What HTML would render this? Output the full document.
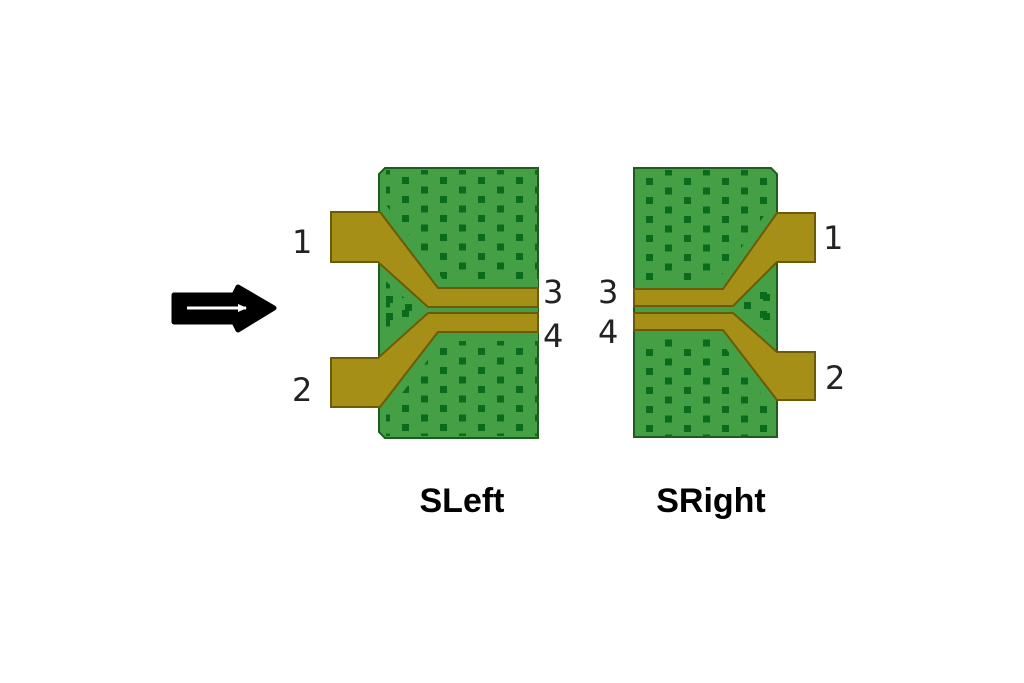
<!DOCTYPE html>
<html><head><style>
html,body{margin:0;padding:0;background:#fff;}
svg{display:block;}
.lbl{font-family:"DejaVu Sans","Liberation Sans",sans-serif;font-size:32px;fill:#222;}
.name{font-family:"Liberation Sans",sans-serif;font-size:34px;font-weight:bold;fill:#000;}
</style></head><body>
<svg width="1024" height="683" viewBox="0 0 1024 683" xmlns="http://www.w3.org/2000/svg">
<defs>
<pattern id="dots" x="402" y="177" width="38" height="19" patternUnits="userSpaceOnUse">
<rect x="0" y="0" width="7" height="7" fill="#0b6b1c"/>
<rect x="19" y="9.5" width="7" height="7" fill="#0b6b1c"/>
</pattern>
<pattern id="dots2" x="634" y="178" width="38" height="19" patternUnits="userSpaceOnUse">
<rect x="12" y="0" width="7" height="7" fill="#0b6b1c"/>
<rect x="31" y="9.5" width="7" height="7" fill="#0b6b1c"/>
</pattern>
<clipPath id="cl"><rect x="381" y="170" width="157" height="266"/></clipPath>
<clipPath id="cr"><rect x="635" y="170" width="141" height="266"/></clipPath>
</defs>
<!-- Left board -->
<path d="M385 168 H538 V438 H385 L379 432 V174 Z" fill="#45a045" stroke="#1f5a1f" stroke-width="2"/>
<rect x="386" y="170" width="152" height="266" fill="url(#dots)"/>
<g fill="#45a045" stroke="#45a045" stroke-width="18" stroke-linejoin="round" clip-path="url(#cl)">
<polygon points="331,212 380,212 438,288 538,288 538,307 428,307 378,262 331,262"/>
<polygon points="331,358 378,358 428,313 538,313 538,332 438,332 380,407 331,407"/>
</g>
<g fill="#a68f16" stroke="#6d5a08" stroke-width="2">
<polygon points="331,212 380,212 438,288 538,288 538,307 428,307 378,262 331,262"/>
<polygon points="331,358 378,358 428,313 538,313 538,332 438,332 380,407 331,407"/>
</g>
<rect x="386" y="296" width="7" height="7" fill="#0b6b1c"/>
<rect x="405" y="304" width="7" height="7" fill="#0b6b1c"/>
<rect x="386" y="313" width="7" height="7" fill="#0b6b1c"/>
<!-- Right board -->
<path d="M634 168 H771 L777 174 V437 H634 Z" fill="#45a045" stroke="#1f5a1f" stroke-width="2"/>
<rect x="635" y="170" width="136" height="266" fill="url(#dots2)"/>
<g fill="#45a045" stroke="#45a045" stroke-width="18" stroke-linejoin="round" clip-path="url(#cr)">
<polygon points="815,213 777,213 723,289 634,289 634,306 733,306 777,262 815,262"/>
<polygon points="815,352 777,352 733,313 634,313 634,330 723,330 777,400 815,400"/>
</g>
<g fill="#a68f16" stroke="#6d5a08" stroke-width="2">
<polygon points="815,213 777,213 723,289 634,289 634,306 733,306 777,262 815,262"/>
<polygon points="815,352 777,352 733,313 634,313 634,330 723,330 777,400 815,400"/>
</g>
<rect x="744" y="302" width="7" height="7" fill="#0b6b1c"/>
<rect x="763" y="294" width="7" height="7" fill="#0b6b1c"/>
<rect x="763" y="313" width="7" height="7" fill="#0b6b1c"/>
<!-- labels -->
<text class="lbl" x="292" y="253">1</text>
<text class="lbl" x="292" y="401">2</text>
<text class="lbl" x="543" y="303">3</text>
<text class="lbl" x="543" y="347">4</text>
<text class="lbl" x="598" y="303">3</text>
<text class="lbl" x="598" y="343">4</text>
<text class="lbl" x="823" y="249">1</text>
<text class="lbl" x="825" y="389">2</text>
<text class="name" x="462" y="512" text-anchor="middle">SLeft</text>
<text class="name" x="711" y="512" text-anchor="middle">SRight</text>
<!-- arrow -->
<path d="M174 295 H234 L238 287 L274 308 L238 330 L234 322 H174 Z" fill="#000" stroke="#000" stroke-width="5" stroke-linejoin="round"/>
<line x1="187" y1="308" x2="246" y2="308" stroke="#fff" stroke-width="3"/>
<path d="M238 304 L247 308 L238 312 Z" fill="#fff"/>
</svg>
</body></html>
